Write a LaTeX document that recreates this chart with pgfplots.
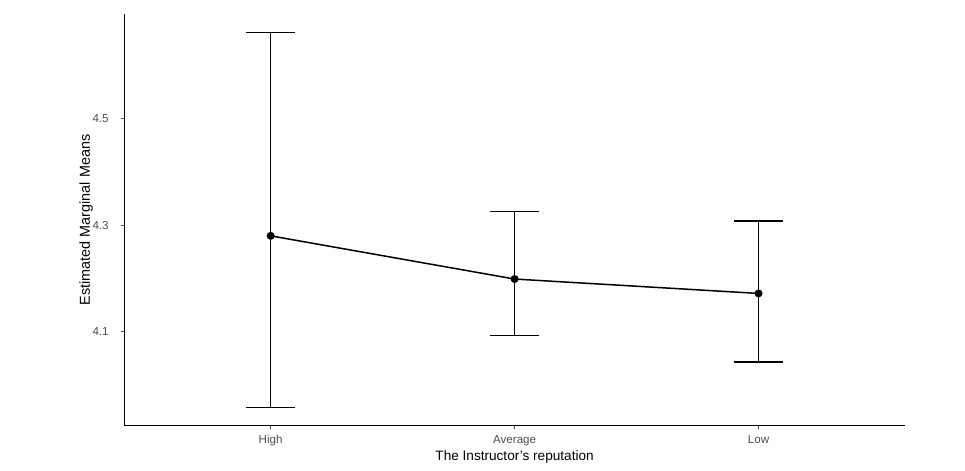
\documentclass[border=0pt]{standalone}
\usepackage{pgfplots}
\pgfplotsset{compat=1.18}
\usepackage{fontspec}
\setmainfont{Liberation Sans}
\definecolor{tickgrey}{HTML}{4D4D4D}
\begin{document}
\begin{tikzpicture}
\path[use as bounding box] (-62.15pt,-22.65pt) rectangle (420.35pt,212.85pt);
\begin{axis}[
  at={(0,0)}, anchor=south west, scale only axis,
  width=390.3pt, height=205.85pt,
  xmin=-0.6, xmax=2.6, ymin=3.924, ymax=4.696,
  axis lines=left, axis line style={-, line width=0.7pt, black},
  xtick={0,1,2}, xticklabels={High,Average,Low},
  ytick={4.1,4.3,4.5}, yticklabels={4.1,4.3,4.5},
  tick align=outside, major tick length=1.8pt,
  tick style={line width=0.6pt, tickgrey},
  ticklabel style={font=\fontsize{5.8}{6}\selectfont, text=tickgrey},
  yticklabel style={xshift=-2.5pt},
  xticklabel style={yshift=0.5pt},
  /pgf/number format/assume math mode=true,
  xlabel={The Instructor's reputation},
  ylabel={Estimated Marginal Means},
  xlabel style={font=\fontsize{6.8}{7}\selectfont, yshift=4.5pt},
  ylabel style={font=\fontsize{7.2}{7.5}\selectfont, yshift=-7pt},
  clip=false,
]
\addplot[black, line width=0.75pt, mark=*, mark size=1.6pt,
  error bars/.cd, y dir=both, y explicit,
  error bar style={line width=0.8pt, black},
  error mark options={rotate=90, mark size=12.2pt, line width=0.8pt, black}]
  table[x=x, y=y, y error plus=ep, y error minus=em] {
x y ep em
0 4.280 0.381 0.322
1 4.199 0.127 0.106
2 4.172 0.136 0.128
};
\end{axis}
\end{tikzpicture}
\end{document}
